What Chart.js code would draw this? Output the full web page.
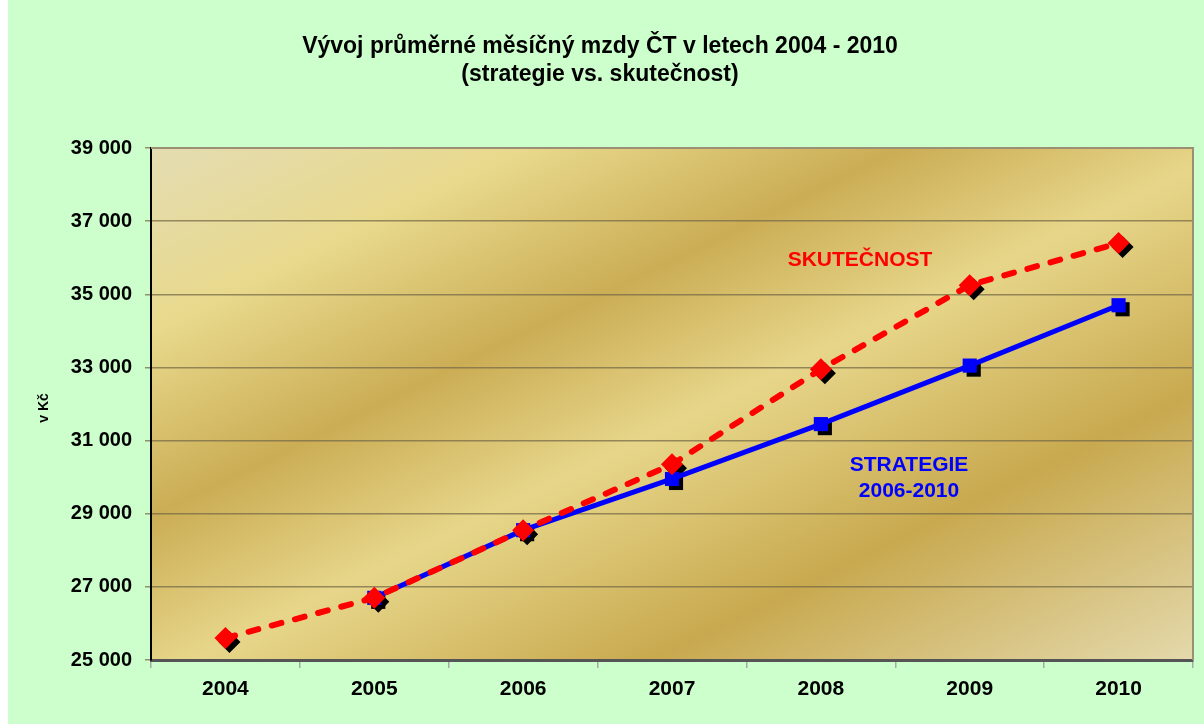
<!DOCTYPE html>
<html>
<head>
<meta charset="utf-8">
<script src="https://cdn.jsdelivr.net/npm/chart.js@4/dist/chart.umd.min.js"></script>
<style>
    html, body { margin: 0; padding: 0; background: #fff; }
</style>
</head>
<body>
<canvas id="chart" width="1204" height="724"></canvas>
<script>
const years = ['2004', '2005', '2006', '2007', '2008', '2009', '2010'];
const skutecnost = [25600, 26700, 28550, 30350, 32950, 35250, 36400];
const strategie = [null, 26700, 28550, 29950, 31450, 33050, 34700];
const yMin = 25000, yMax = 39000, yStep = 2000;

const titleLines = ['Vývoj průměrné měsíčný mzdy ČT v letech 2004 - 2010', '(strategie vs. skutečnost)'];
const yTitle = 'v Kč';

function formatThousands(v) {
    return String(v).replace(/\B(?=(\d{3})+(?!\d))/g, ' ');
}

// background, plot gradient, titles, marker shadows
const decor = {
    id: 'decor',
    beforeDraw(chart) {
        const ctx = chart.ctx;
        const { left, top, right, bottom } = chart.chartArea;
        ctx.save();
        ctx.fillStyle = '#ffffff';
        ctx.fillRect(0, 0, chart.width, chart.height);
        ctx.fillStyle = '#ccffcc';
        ctx.fillRect(8, 0, chart.width - 8, chart.height);

        const W = right - left, H = bottom - top;
        const d = Math.sqrt(W * W + H * H);
        const L = 2 * W * H / d;
        const g = ctx.createLinearGradient(left, top, left + H / d * L, top + W / d * L);
        g.addColorStop(0, '#e4dcb2');
        g.addColorStop(0.18, '#e8d98c');
        g.addColorStop(0.36, '#cbad55');
        g.addColorStop(0.52, '#e7d68a');
        g.addColorStop(0.74, '#c8a94f');
        g.addColorStop(1, '#e4d9ac');
        ctx.fillStyle = g;
        ctx.fillRect(left, top, W, H);

        ctx.fillStyle = '#000';
        ctx.textAlign = 'center';
        ctx.textBaseline = 'middle';
        ctx.font = 'bold 23px "Liberation Sans", Arial, sans-serif';
        ctx.fillText(titleLines[0], 600, 47);
        ctx.fillText(titleLines[1], 600, 75);

        ctx.translate(44, 408);
        ctx.rotate(-Math.PI / 2);
        ctx.font = 'bold 14px "Liberation Sans", Arial, sans-serif';
        ctx.fillText(yTitle, 0, 0);
        ctx.restore();
    },
    beforeDatasetsDraw(chart) {
        const ctx = chart.ctx;
        const { left, top, right, bottom } = chart.chartArea;
        ctx.save();
        ctx.strokeStyle = '#9c9074';
        ctx.lineWidth = 2;
        ctx.beginPath();
        ctx.moveTo(left, top);
        ctx.lineTo(right, top);
        ctx.lineTo(right, bottom);
        ctx.stroke();

        ctx.fillStyle = '#000';
        chart.data.datasets.forEach((ds, i) => {
            const meta = chart.getDatasetMeta(i);
            meta.data.forEach((pt, j) => {
                if (ds.data[j] == null) return;
                const x = pt.x + 4, y = pt.y + 4;
                const r = ds.pointRadius;
                ctx.beginPath();
                if (ds.pointStyle === 'rectRot') {
                    ctx.moveTo(x - r, y);
                    ctx.lineTo(x, y - r);
                    ctx.lineTo(x + r, y);
                    ctx.lineTo(x, y + r);
                } else {
                    const s = Math.SQRT1_2 * r;
                    ctx.rect(x - s, y - s, 2 * s, 2 * s);
                }
                ctx.closePath();
                ctx.fill();
            });
        });
        ctx.restore();
    },
    afterDatasetsDraw(chart) {
        const ctx = chart.ctx;
        ctx.save();
        ctx.textAlign = 'center';
        ctx.textBaseline = 'middle';
        ctx.font = 'bold 21px "Liberation Sans", Arial, sans-serif';
        ctx.fillStyle = '#ff0000';
        ctx.fillText('SKUTEČNOST', 860, 260);
        ctx.fillStyle = '#0000ff';
        ctx.fillText('STRATEGIE', 909, 465);
        ctx.fillText('2006-2010', 909, 491);
        ctx.restore();
    }
};

new Chart(document.getElementById('chart'), {
    type: 'line',
    data: {
        labels: years,
        datasets: [
            {
                label: 'Skutečnost',
                data: skutecnost,
                borderColor: '#ff0000',
                backgroundColor: '#ff0000',
                borderWidth: 6,
                borderDash: [10, 14],
                borderCapStyle: 'round',
                pointStyle: 'rectRot',
                pointRadius: 11,
                pointBorderWidth: 0,
                pointBackgroundColor: '#ff0000',
                tension: 0
            },
            {
                label: 'Strategie 2006-2010',
                data: strategie,
                borderColor: '#0000ff',
                backgroundColor: '#0000ff',
                borderWidth: 5,
                pointStyle: 'rect',
                pointRadius: 10,
                pointBorderWidth: 0,
                pointBackgroundColor: '#0000ff',
                tension: 0
            }
        ]
    },
    options: {
        responsive: false,
        animation: false,
        layout: { padding: { top: 148, right: 8, left: 0, bottom: 0 } },
        plugins: {
            legend: { display: false },
            tooltip: { enabled: false }
        },
        scales: {
            x: {
                offset: true,
                afterFit(scale) { scale.height = 64; },
                grid: {
                    offset: true,
                    drawOnChartArea: false,
                    tickLength: 8,
                    color: '#a8a8a8',
                    lineWidth: 1.5
                },
                border: { color: '#555555', width: 3 },
                ticks: {
                    padding: 9,
                    color: '#000',
                    font: { family: '"Liberation Sans", Arial, sans-serif', size: 21, weight: 'bold' }
                }
            },
            y: {
                min: yMin,
                max: yMax,
                afterFit(scale) { scale.width = 151; },
                grid: {
                    color: 'rgba(120,108,72,0.75)',
                    lineWidth: 1.5,
                    tickLength: 6
                },
                border: { color: '#000000', width: 2 },
                ticks: {
                    stepSize: yStep,
                    padding: 13,
                    color: '#000',
                    font: { family: '"Liberation Sans", Arial, sans-serif', size: 20, weight: 'bold' },
                    callback: v => formatThousands(v)
                }
            }
        }
    },
    plugins: [decor]
});
</script>
</body>
</html>
